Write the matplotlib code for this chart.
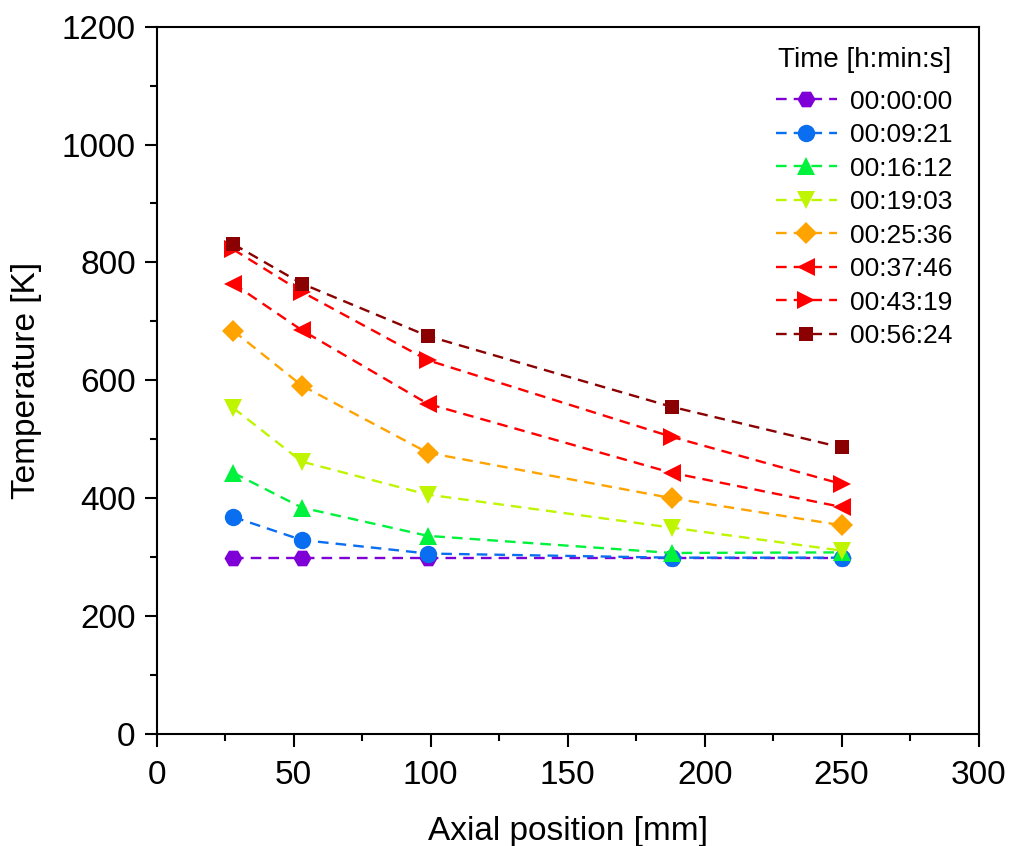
import matplotlib
matplotlib.use("Agg")
import matplotlib.pyplot as plt

plt.rcParams['font.family'] = ['Liberation Sans', 'DejaVu Sans']

# axial positions of the thermocouples [mm]
pos = [28, 53, 99, 188, 250]

times = ["00:00:00", "00:09:21", "00:16:12", "00:19:03",
         "00:25:36", "00:37:46", "00:43:19", "00:56:24"]

t0000 = [299, 299, 299, 299, 299]
t0921 = [368, 329, 306, 299, 299]
t1612 = [443, 384, 336, 307, 308]
t1903 = [553, 462, 406, 350, 311]
t2536 = [684, 591, 477, 400, 354]
t3746 = [764, 685, 560, 443, 385]
t4319 = [822, 750, 634, 504, 424]
t5624 = [831, 764, 675, 555, 486]

temps = [t0000, t0921, t1612, t1903, t2536, t3746, t4319, t5624]

colors = ["#7f00d6", "#0a6ef0", "#00f23c", "#bff500",
          "#ffa300", "#ff0000", "#ff0000", "#8b0000"]
markers = ["H", "o", "^", "v", "D", "<", ">", "s"]
msizes = [13, 12.5, 13, 13, 11, 13, 13, 10.5]

fig = plt.figure(figsize=(10.1, 8.46), dpi=100)
ax = fig.add_axes([0.155, 0.1325, 0.814, 0.836])

for i in range(len(times)):
    ax.plot(pos, temps[i], linestyle=(0, (4.5, 3)), linewidth=1.7,
            color=colors[i], marker=markers[i], markersize=msizes[i],
            markeredgewidth=0, label=times[i])

ax.set_xlim(0, 300)
ax.set_ylim(0, 1200)
ax.set_xticks(range(0, 301, 50))
ax.set_xticks(range(25, 300, 50), minor=True)
ax.set_yticks(range(0, 1201, 200))
ax.set_yticks(range(100, 1200, 200), minor=True)
ax.tick_params(axis='both', which='major', labelsize=24, length=9, width=1.5)
ax.tick_params(axis='x', which='major', pad=10)
ax.tick_params(axis='y', which='major', pad=6)
ax.tick_params(axis='both', which='minor', length=5, width=1.5)
for s in ax.spines.values():
    s.set_linewidth(1.5)

ax.set_xlabel("Axial position [mm]", fontsize=24, labelpad=18)
ax.set_ylabel("Temperature [K]", fontsize=24, labelpad=14)

leg = ax.legend(title="Time [h:min:s]", fontsize=19, title_fontsize=20,
                frameon=False, loc='upper right', handlelength=2.3,
                handletextpad=0.5, labelspacing=0.36,
                bbox_to_anchor=(0.997, 1.005))
leg._legend_box.sep = 12

fig.savefig("out.png", dpi=100)
